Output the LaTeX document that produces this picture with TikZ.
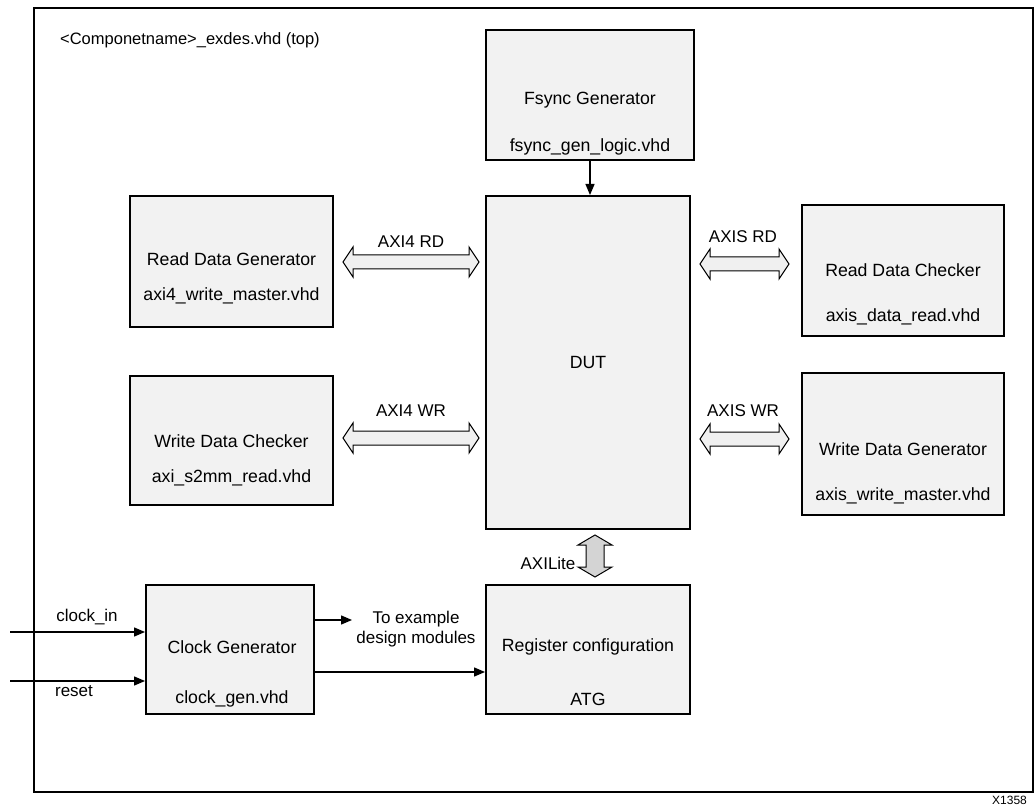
\documentclass[tikz,border=0pt]{standalone}
\usepackage{fontspec}
\setmainfont{Liberation Sans}
\usetikzlibrary{arrows.meta}
\definecolor{boxfill}{RGB}{242,242,242}
\definecolor{arrfill}{RGB}{240,240,240}
\definecolor{litefill}{RGB}{212,212,212}
\tikzset{
  blk/.style={draw=black, line width=2pt, fill=boxfill, inner sep=0pt},
  txt/.style={inner sep=0pt, font=\fontsize{17}{20.5}\selectfont, align=center},
  btxt/.style={txt, font=\fontsize{17.7}{21}\selectfont},
  conn/.style={draw=black, line width=1.3pt, -{Triangle[length=11pt,width=9pt]}},
  blockarrow/.style={draw=black, line width=1pt, fill=arrfill, line join=miter},
}
\newcommand\hdarrow[4]{% x1, x2, y, name
  \coordinate (#4) at ({(#1+#2)/2},#3);
  \draw[blockarrow] (#1,#3) -- (#1+10,#3-15) -- (#1+10,#3-7) -- (#2-10,#3-7) -- (#2-10,#3-15) -- (#2,#3)
    -- (#2-10,#3+15) -- (#2-10,#3+7) -- (#1+10,#3+7) -- (#1+10,#3+15) -- cycle;}
\begin{document}
\begin{tikzpicture}[x=1pt,y=-1pt]
\useasboundingbox (0,0) rectangle (1034,805);
% outer frame
\draw[line width=1.5pt] (34,8) rectangle (1033,792);
\node[txt, anchor=west, font=\fontsize{16.5}{20}\selectfont] (title) at (60,40) {<Componetname>\_exdes.vhd (top)};
% boxes
\node[blk, minimum width=208pt, minimum height=130pt] (fsync) at (590,95) {};
\node[blk, minimum width=204pt, minimum height=333pt] (dut) at (588,362.5) {};
\node[blk, minimum width=203pt, minimum height=131pt] (rdg) at (231.5,261.5) {};
\node[blk, minimum width=203pt, minimum height=129pt] (wdc) at (231.5,440.5) {};
\node[blk, minimum width=202pt, minimum height=131pt] (rdc) at (903,270.5) {};
\node[blk, minimum width=202pt, minimum height=142pt] (wdg) at (903,444) {};
\node[blk, minimum width=168pt, minimum height=129pt] (clk) at (230,649.5) {};
\node[blk, minimum width=204pt, minimum height=129pt] (reg) at (588,649.5) {};
% texts
\node[btxt] (fsyncA) at (590,100) {Fsync Generator};
\node[btxt] (fsyncB) at (590,147) {fsync\_gen\_logic.vhd};
\node[btxt] (dutA) at (588,362) {DUT};
\node[btxt] (rdgA) at (231.5,259) {Read Data Generator};
\node[btxt] (rdgB) at (231.5,296) {axi4\_write\_master.vhd};
\node[btxt] (wdcA) at (231.5,441) {Write Data Checker};
\node[btxt] (wdcB) at (231.5,478) {axi\_s2mm\_read.vhd};
\node[btxt] (rdcA) at (903,270) {Read Data Checker};
\node[btxt] (rdcB) at (903,317) {axis\_data\_read.vhd};
\node[btxt] (wdgA) at (903,449) {Write Data Generator};
\node[btxt] (wdgB) at (903,496) {axis\_write\_master.vhd};
\node[btxt] (clkA) at (232,647) {Clock Generator};
\node[btxt] (clkB) at (232,699) {clock\_gen.vhd};
\node[btxt] (regA) at (588,647) {Register configuration};
\node[btxt] (regB) at (588,699) {ATG};
% fsync -> dut
\draw[conn] (fsync.south) -- (fsync.south |- dut.north);
% block arrows
\hdarrow{343}{479}{262}{axrd}
\node[txt] (axrdl) at (411,242) {AXI4 RD};
\hdarrow{343}{479}{438}{axwr}
\node[txt] (axwrl) at (411,411) {AXI4 WR};
\hdarrow{700}{789}{264}{asrd}
\node[txt] (asrdl) at (743,237) {AXIS RD};
\hdarrow{700}{789}{439}{aswr}
\node[txt] (aswrl) at (743,411) {AXIS WR};
% AXILite vertical
\coordinate (axl) at (595,556);
\draw[blockarrow, fill=litefill] (595,535) -- (612,545) -- (604,545) -- (604,567) -- (612,567) -- (595,577)
  -- (578,567) -- (586,567) -- (586,545) -- (578,545) -- cycle;
\node[txt] (axll) at (548,563) {AXILite};
% inputs
\coordinate (cin) at (10,632);
\coordinate (rin) at (10,681);
\draw[conn] (cin) -- (cin -| clk.west);
\draw[conn] (rin) -- (rin -| clk.west);
\node[txt] (cinl) at (87,617) {clock\_in};
\node[txt] (rinl) at (74,691) {reset};
% outputs
\coordinate (toex) at (352,620);
\draw[conn] (toex -| clk.east) -- (toex);
\node[txt] (toexl) at (416,629) {To example\\design modules};
\draw[conn] (clk.east |- 0,672) -- (reg.west |- 0,672);
% figure id
\node[inner sep=0pt, anchor=west, font=\fontsize{12}{14}\selectfont] (fid) at (992,800) {X1358};
\end{tikzpicture}
\end{document}
